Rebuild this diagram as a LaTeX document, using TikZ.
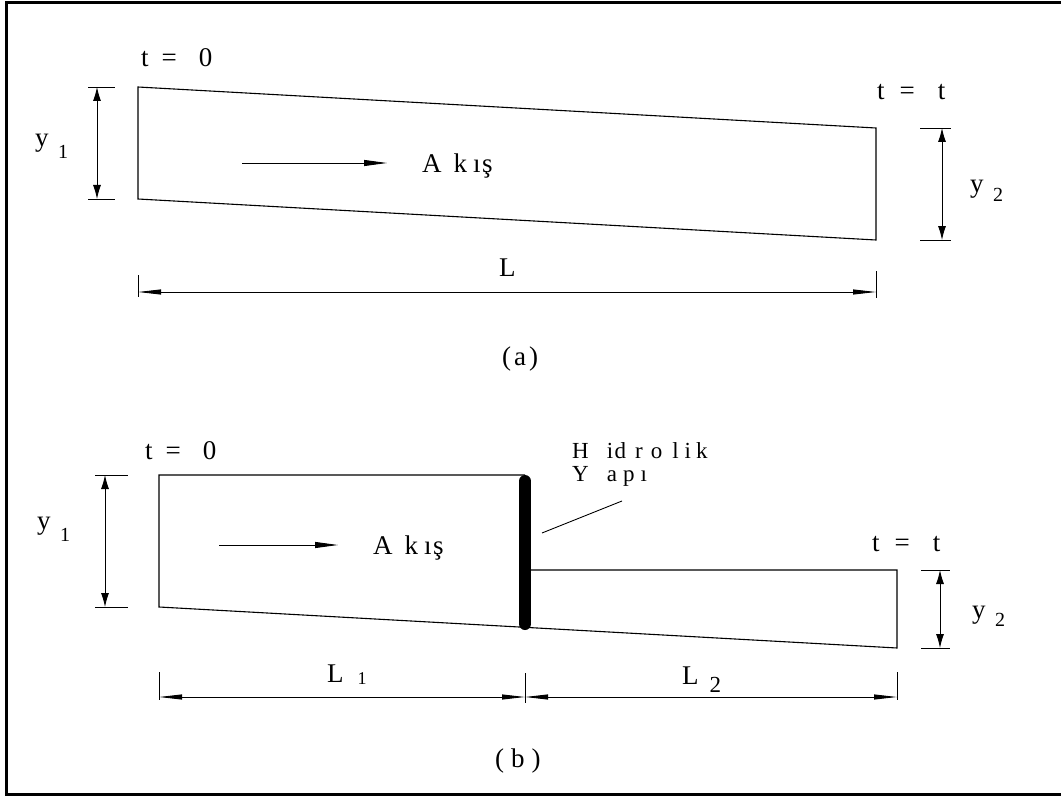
\documentclass[tikz,border=0pt]{standalone}
\usepackage{fontspec}
\setmainfont{Liberation Serif}
\usetikzlibrary{arrows.meta}
\newcommand\dimsub[3]{\raisebox{-#1pt}{\fontsize{#2}{#2}\selectfont #3}}
\tikzset{
  chan/.style={line width=1.1pt},
  frame/.style={line width=3pt},
  hdim/.style={line width=0.9pt,{Triangle[length=23pt,width=5pt]}-{Triangle[length=23pt,width=5pt]}},
  vdim/.style={line width=0.9pt,{Latex[length=14pt,width=8pt]}-{Latex[length=14pt,width=8pt]}},
  ext/.style={line width=0.8pt},
  lbl/.style={inner sep=0pt, anchor=base west, font=\fontsize{27}{30}\selectfont},
  flow/.style={line width=0.9pt,-{Triangle[length=23pt,width=6pt]}},
  wall/.style={line width=12pt, line cap=round},
  leader/.style={line width=0.9pt}
}
\begin{document}
\begin{tikzpicture}[x=1pt,y=-1pt]
\useasboundingbox (0,0) rectangle (1061,797);
% frame
\draw[frame] (1061,3) -- (6,3) -- (6,794) -- (1061,794);

% ---------------- (a) ----------------
\coordinate (a1) at (138,87);
\coordinate (a2) at (876,128);
\coordinate (a3) at (876,240);
\coordinate (a4) at (138,199);
\draw[chan] (a1) -- (a2) -- (a3) -- (a4) -- cycle;

% y1 dimension
\coordinate (ay1t) at (97,87);
\coordinate (ay1b) at (97,199);
\draw[ext] (88,87) -- (115,87);
\draw[ext] (88,199) -- (115,199);
\draw[vdim] (ay1t) -- (ay1b);
% y2 dimension
\coordinate (ay2t) at (942,128);
\coordinate (ay2b) at (942,240);
\draw[ext] (920,128) -- (951,128);
\draw[ext] (920,240) -- (951,240);
\draw[vdim] (ay2t) -- (ay2b);
% L dimension
\coordinate (aLl) at (138,292);
\coordinate (aLr) at (876,292);
\draw[ext] (138,275) -- (138,297);
\draw[ext] (876,271) -- (876,298);
\draw[hdim] (aLl) -- (aLr);
% flow arrow
\coordinate (af1) at (242,163);
\coordinate (af2) at (387,163);
\draw[flow] (af1) -- (af2);

\node[lbl] (t0a) at (141,67) {t\hspace{13pt}=\hspace{22pt}0};
\node[lbl] (tta) at (877,100) {t\hspace{15pt}=\hspace{23pt}t};
\node[lbl] (y1a) at (35,147) {y\hspace{9.5pt}\dimsub{12}{20}{1}};
\node[lbl] (y2a) at (970,193) {y\hspace{9.5pt}\dimsub{9}{20}{2}};
\node[lbl] (akisa) at (422,173) {A\hspace{12pt}k\hspace{6pt}ı\hspace{1.5pt}ş};
\node[lbl] (La) at (499,276) {L};
\node[lbl] (capa) at (502,365) {(\hspace{3pt}a\hspace{3pt})};

% ---------------- (b) ----------------
\coordinate (b1) at (159,475);
\coordinate (b2) at (525,475);
\coordinate (b3) at (159,607);
\coordinate (b4) at (897,648);
\coordinate (b5) at (525,570);
\coordinate (b6) at (897,570);
\draw[chan] (b2) -- (b1) -- (b3) -- (b4) -- (b6) -- (b5);
% wall
\coordinate (wt) at (525,481);
\coordinate (wb) at (525,624);
\draw[wall] (wt) -- (wb);

% y1 dimension
\coordinate (by1t) at (105,475);
\coordinate (by1b) at (105,607);
\draw[ext] (95,475) -- (128,475);
\draw[ext] (95,607) -- (128,607);
\draw[vdim] (by1t) -- (by1b);
% y2 dimension
\coordinate (by2t) at (940,570);
\coordinate (by2b) at (940,648);
\draw[ext] (921,570) -- (950,570);
\draw[ext] (921,648) -- (950,648);
\draw[vdim] (by2t) -- (by2b);
% L1, L2 dimension
\coordinate (bLl) at (159,697);
\coordinate (bLm) at (525,697);
\coordinate (bLr) at (897,697);
\draw[ext] (159,672) -- (159,700);
\draw[ext] (525,673) -- (525,703);
\draw[ext] (897,672) -- (897,700);
\draw[hdim] (bLl) -- (bLm);
\draw[hdim] (bLm) -- (bLr);
% flow arrow
\coordinate (bf1) at (219,545);
\coordinate (bf2) at (338,545);
\draw[flow] (bf1) -- (bf2);
% leader
\coordinate (ld1) at (542,533);
\coordinate (ld2) at (622,501);
\draw[leader] (ld1) -- (ld2);

\node[lbl] (t0b) at (145,459) {t\hspace{13pt}=\hspace{22pt}0};
\node[lbl] (ttb) at (872,551) {t\hspace{15pt}=\hspace{23pt}t};
\node[lbl] (y1b) at (37,529) {y\hspace{9.5pt}\dimsub{12}{20}{1}};
\node[lbl] (y2b) at (972,618) {y\hspace{9.5pt}\dimsub{8}{20}{2}};
\node[lbl] (akisb) at (373,554) {A\hspace{12pt}k\hspace{6pt}ı\hspace{1.5pt}ş};
\node[lbl] (L1b) at (327,682) {L\hspace{14pt}\dimsub{2}{18}{1}};
\node[lbl] (L2b) at (682,684) {L\hspace{11pt}\dimsub{8}{23}{2}};
\node[lbl, anchor=north west, align=left, font=\fontsize{23}{23}\selectfont] (hyd) at (572,442)
  {H\hspace{18pt}i\hspace{1.5pt}d\hspace{9pt}r\hspace{8pt}o\hspace{10pt}l\hspace{6pt}i\hspace{5pt}k\\
   Y\hspace{18pt}a\hspace{6pt}p\hspace{6pt}ı};
\node[lbl] (capb) at (495,767) {(\hspace{7pt}b\hspace{7pt})};
\end{tikzpicture}
\end{document}
